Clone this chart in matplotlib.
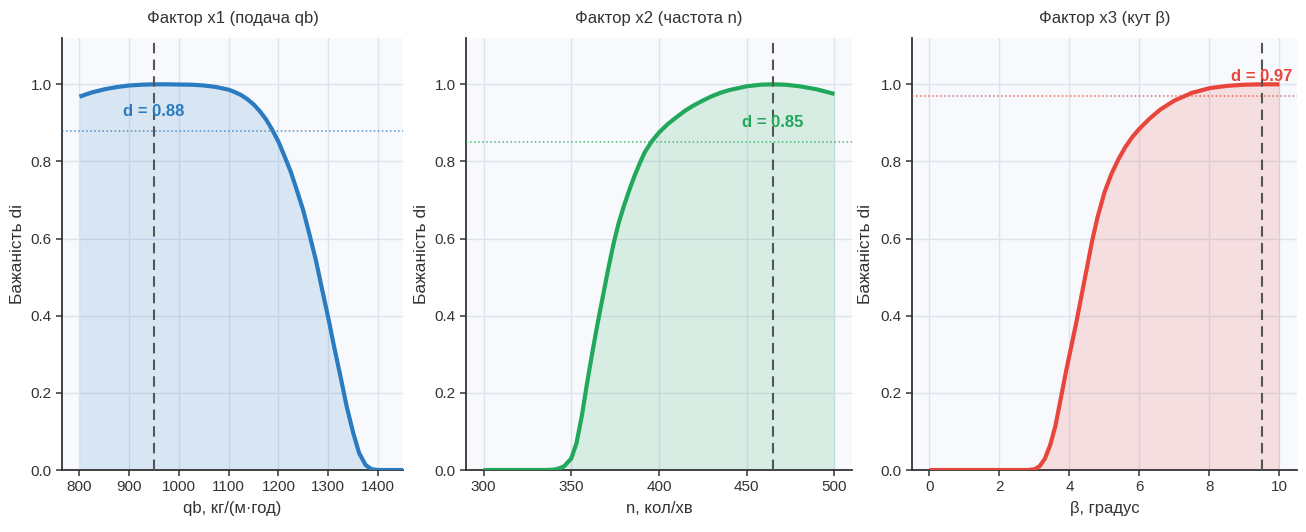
import numpy as np
import matplotlib
matplotlib.use("Agg")
import matplotlib.pyplot as plt
from matplotlib.ticker import FormatStrFormatter

plt.rcParams['font.family'] = ['Liberation Sans', 'DejaVu Sans']

# factor x1 - feed qb
q_x = [800, 825, 850, 875, 900, 925, 950, 975, 1000, 1025, 1050, 1075, 1100, 1112,
       1125, 1137, 1150, 1162, 1175, 1187, 1200, 1212, 1225, 1237, 1250, 1262, 1275,
       1287, 1300, 1312, 1325, 1337, 1350, 1362, 1375, 1387, 1400, 1425, 1450]
q_d = [0.968, 0.979, 0.987, 0.993, 0.997, 0.999, 1.0, 1.0, 0.9995, 0.999, 0.997, 0.993,
       0.986, 0.98, 0.972, 0.962, 0.948, 0.931, 0.909, 0.883, 0.851, 0.814, 0.772,
       0.725, 0.672, 0.612, 0.545, 0.472, 0.395, 0.318, 0.24, 0.165, 0.097, 0.044,
       0.013, 0.002, 0.0, 0.0, 0.0]

# factor x2 - frequency n
n_x = [300, 320, 335, 340, 343, 346, 350, 353, 356, 359, 362, 365, 368, 371, 374,
       377, 380, 383, 386, 389, 392, 396, 400, 405, 410, 415, 420, 425, 430, 435,
       440, 450, 458, 465, 472, 480, 490, 500]
n_d = [0.0, 0.0, 0.0, 0.001, 0.004, 0.01, 0.03, 0.07, 0.14, 0.225, 0.305, 0.38, 0.45,
       0.52, 0.585, 0.64, 0.685, 0.725, 0.762, 0.795, 0.825, 0.853, 0.875, 0.897,
       0.915, 0.932, 0.946, 0.958, 0.969, 0.978, 0.985, 0.995, 0.999, 1.0, 0.999,
       0.995, 0.987, 0.975]

# factor x3 - angle beta
b_x = [0, 1, 2, 2.8, 3.0, 3.15, 3.3, 3.45, 3.6, 3.75, 3.9, 4.05, 4.2, 4.35, 4.5,
       4.65, 4.8, 5.0, 5.2, 5.4, 5.6, 5.8, 6.0, 6.3, 6.6, 7.0, 7.5, 8.0, 8.5, 9.0,
       9.5, 10.0]
b_d = [0.0, 0.0, 0.0, 0.0, 0.002, 0.01, 0.03, 0.065, 0.115, 0.185, 0.255, 0.32, 0.385,
       0.455, 0.525, 0.595, 0.655, 0.72, 0.768, 0.806, 0.838, 0.864, 0.885, 0.912,
       0.935, 0.958, 0.978, 0.99, 0.996, 0.999, 1.0, 1.0]

titles = ['Фактор x1 (подача qb)', 'Фактор x2 (частота n)', 'Фактор x3 (кут β)']
xlabels = ['qb, кг/(м·год)', 'n, кол/хв', 'β, градус']
opt_x = [950, 465, 9.5]
d_val = [0.88, 0.85, 0.97]
colors = ['#2b7bc0', '#22a85a', '#e8453c']
xlims = [(765, 1450), (290, 510), (-0.5, 10.5)]
xticks = [[800, 900, 1000, 1100, 1200, 1300, 1400],
          [300, 350, 400, 450, 500],
          [0, 2, 4, 6, 8, 10]]

data = [(q_x, q_d), (n_x, n_d), (b_x, b_d)]

fig = plt.figure(figsize=(13.06, 5.32), dpi=100)
boxes = [[0.0475, 0.1165, 0.261, 0.812],
         [0.3568, 0.1165, 0.2956, 0.812],
         [0.6983, 0.1165, 0.2948, 0.812]]
ylab_x = [-0.108, -0.096, -0.101]

for i in range(3):
    ax = fig.add_axes(boxes[i])
    x, d = data[i]
    c = colors[i]
    ax.set_facecolor('#f7f9fc')
    ax.fill_between(x, 0, d, color=c, alpha=0.15, lw=0, zorder=2)
    ax.plot(x, d, color=c, lw=3, zorder=4, solid_capstyle='butt', solid_joinstyle='round')
    ax.axvline(opt_x[i], color='#555555', ls=(0, (5, 3)), lw=1.5, zorder=5)
    ax.axhline(d_val[i], color=c, ls=':', lw=1.1, alpha=0.8, zorder=3)
    ax.text(opt_x[i], d_val[i] + 0.05, 'd = %.2f' % d_val[i], color=c,
            fontsize=12, fontweight='bold', ha='center', va='center', zorder=6)
    ax.set_xlim(*xlims[i])
    ax.set_ylim(0, 1.12)
    ax.set_xticks(xticks[i])
    ax.set_yticks([0, 0.2, 0.4, 0.6, 0.8, 1.0])
    ax.yaxis.set_major_formatter(FormatStrFormatter('%.1f'))
    ax.grid(True, color='#dde3ee', lw=1, zorder=0)
    ax.set_axisbelow(True)
    for s in ['top', 'right']:
        ax.spines[s].set_visible(False)
    for s in ['left', 'bottom']:
        ax.spines[s].set_color('#333333')
        ax.spines[s].set_linewidth(1.3)
    ax.tick_params(labelsize=11, colors='#333333', length=4, width=1.1)
    ax.set_title(titles[i], fontsize=12, color='#333333', pad=11)
    ax.set_xlabel(xlabels[i], fontsize=12, color='#333333', labelpad=5)
    ax.set_ylabel('Бажаність di', fontsize=12.5, color='#333333')
    ax.yaxis.set_label_coords(ylab_x[i], 0.5)

fig.savefig('out.png', dpi=100)
